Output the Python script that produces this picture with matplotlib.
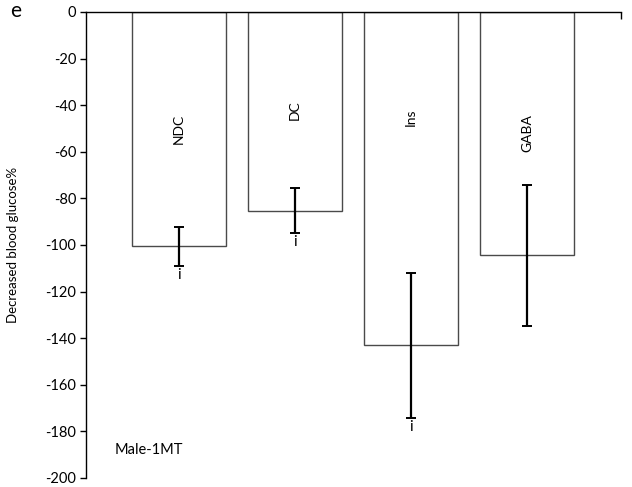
import numpy as np
import matplotlib
matplotlib.use("Agg")
import matplotlib.pyplot as plt

# data
groups = ["NDC", "DC", "Ins", "GABA"]
decrease = [-100.5, -85.3, -143.1, -104.4]
sem = [8.4, 9.7, 31.1, 30.2]
sig_marks = ["i", "i", "i", ""]
label_y = [-50, -42, -45, -52]

plt.rcParams['font.family'] = ['Lato', 'DejaVu Sans']
plt.rcParams['axes.unicode_minus'] = False

fig = plt.figure(figsize=(6.32, 4.87), dpi=100)
ax = fig.add_axes([0.136, 0.0185, 0.8466, 0.957])

x = np.arange(len(groups))
ax.bar(x, decrease, width=0.81, color='white', edgecolor='#4a4a4a', linewidth=1.0, zorder=2)
ax.errorbar(x, decrease, yerr=sem, fmt='none', ecolor='black', elinewidth=1.6,
            capsize=3.6, capthick=1.4, zorder=3)

for xi, name, ly in zip(x, groups, label_y):
    ax.text(xi, ly, name, rotation=90, ha='center', va='center', fontsize=10)

for xi, val, err, mark in zip(x, decrease, sem, sig_marks):
    if mark:
        ax.text(xi, val - err - 0.8, mark, ha='center', va='top', fontsize=11)

ax.set_xlim(-0.80, 3.81)
ax.set_ylim(-200, 0)
ax.set_yticks(np.arange(-200, 1, 20))
ax.tick_params(axis='y', direction='out', length=4, width=1, labelsize=10.5, pad=3)

# category axis sits on top at y = 0
ax.spines['right'].set_visible(False)
ax.spines['bottom'].set_visible(False)
ax.spines['top'].set_linewidth(1)
ax.spines['left'].set_linewidth(1)
ax.xaxis.tick_top()
ax.set_xticks([3.81])
ax.set_xticklabels([])
ax.tick_params(axis='x', direction='in', length=5, width=1)

ax.set_ylabel("Decreased blood glucose%", fontsize=9.5, labelpad=4)
ax.yaxis.set_label_coords(-0.125, 0.5)

ax.text(-0.55, -188, "Male-1MT", ha='left', va='center', fontsize=10.5)
fig.text(0.016, 0.977, "e", ha='left', va='center', fontsize=15)

fig.savefig("out.png", dpi=100)
